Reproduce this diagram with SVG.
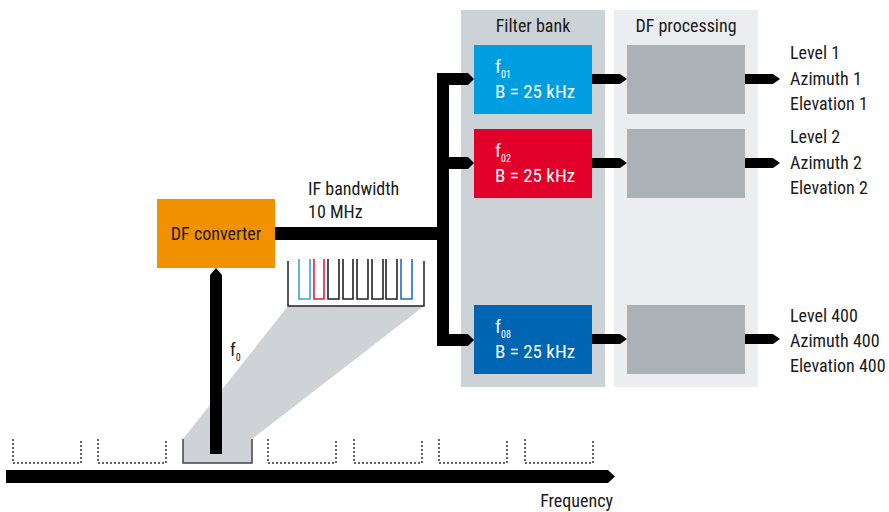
<svg xmlns="http://www.w3.org/2000/svg" width="889" height="512" viewBox="0 0 889 512">
<style>
text{font-family:"Liberation Sans Narrow","Roboto Condensed","DejaVu Sans Condensed","Liberation Sans",sans-serif;font-stretch:condensed;font-size:18px;fill:#1a1a1a}
.w{fill:#ffffff;font-size:19px}
.sub{font-size:10px}
.bin{fill:none;stroke:#333;stroke-width:1.5;stroke-dasharray:2 2}
.u{fill:none;stroke-width:1.6}
.blk{fill:#000}
</style>
<rect width="889" height="512" fill="#fff"/>
<g id="panel-filter-bank">
<rect x="461" y="10" width="144" height="377" fill="#cdd2d6"/>
<text x="533" y="32" text-anchor="middle">Filter bank</text>
</g>
<g id="panel-df-processing">
<rect x="614" y="10" width="144" height="377" fill="#ecedf1"/>
<text x="686" y="32" text-anchor="middle">DF processing</text>
</g>
<g id="spectrum">
<path class="bin" d="M13,439V463H81V439"/>
<path class="bin" d="M98,439V463H166V439"/>
<path class="bin" d="M268,439V463H336V439"/>
<path class="bin" d="M354,439V463H422V439"/>
<path class="bin" d="M439,439V463H507V439"/>
<path class="bin" d="M525,439V463H593V439"/>
<polygon points="288,306 424,306 252,439 252,463 183,463 183,439" fill="#cfd3d7"/>
<path d="M183,439V463H252V439" fill="none" stroke="#444" stroke-width="1.5"/>
</g>
<g id="comb">
<path d="M288,261V306H424V261" fill="none" stroke="#222" stroke-width="1.5"/>
<path class="u" stroke="#3aa3de" d="M299,259V299H310V259"/>
<path class="u" stroke="#e2203f" d="M314,259V299H324V259"/>
<path class="u" stroke="#222" d="M328,259V299H339V259"/>
<path class="u" stroke="#222" d="M343,259V299H353V259"/>
<path class="u" stroke="#222" d="M357,259V299H368V259"/>
<path class="u" stroke="#222" d="M372,259V299H383V259"/>
<path class="u" stroke="#222" d="M386,259V299H397V259"/>
<path class="u" stroke="#1e6fb8" d="M401,259V299H412V259"/>
</g>
<g id="df-converter">
<rect x="157" y="199" width="118" height="69" fill="#f29100"/>
<text x="216" y="240" text-anchor="middle">DF converter</text>
</g>
<g id="filter-01">
<rect x="474" y="45" width="118" height="69" fill="#009ee0"/>
<text class="w" x="495" y="73">f<tspan class="sub" dy="5">01</tspan></text>
<text class="w" x="495" y="98">B = 25 kHz</text>
</g>
<g id="filter-02">
<rect x="474" y="129" width="118" height="69" fill="#e2002a"/>
<text class="w" x="495" y="157">f<tspan class="sub" dy="5">02</tspan></text>
<text class="w" x="495" y="182">B = 25 kHz</text>
</g>
<g id="filter-08">
<rect x="474" y="305" width="118" height="69" fill="#0066b3"/>
<text class="w" x="495" y="333">f<tspan class="sub" dy="5">08</tspan></text>
<text class="w" x="495" y="358">B = 25 kHz</text>
</g>
<g id="df-proc-1"><rect x="627" y="45" width="118" height="69" fill="#abb1b7"/></g>
<g id="df-proc-2"><rect x="627" y="129" width="118" height="69" fill="#abb1b7"/></g>
<g id="df-proc-400"><rect x="627" y="305" width="118" height="69" fill="#abb1b7"/></g>
<g id="out-1">
<text x="790" y="59">Level 1</text>
<text x="790" y="85">Azimuth 1</text>
<text x="790" y="110">Elevation 1</text>
</g>
<g id="out-2">
<text x="790" y="143">Level 2</text>
<text x="790" y="169">Azimuth 2</text>
<text x="790" y="194">Elevation 2</text>
</g>
<g id="out-400">
<text x="790" y="322">Level 400</text>
<text x="790" y="347">Azimuth 400</text>
<text x="790" y="372">Elevation 400</text>
</g>
<g id="labels">
<text x="308" y="195">IF bandwidth</text>
<text x="308" y="218">10 MHz</text>
<text x="230" y="356">f<tspan class="sub" dy="5">0</tspan></text>
<text x="613" y="507" text-anchor="end">Frequency</text>
</g>
<g id="connectors" class="blk">
<rect x="275" y="227" width="168" height="13"/>
<rect x="437" y="73" width="12" height="273"/>
<polygon points="437,73 468,73 474,79 468,85 437,85"/>
<polygon points="437,157 468,157 474,163 468,169 437,169"/>
<polygon points="437,334 468,334 474,340 468,346 437,346"/>
<polygon points="592,74 620,74 627,79 620,84 592,84"/>
<polygon points="592,158 620,158 627,163 620,168 592,168"/>
<polygon points="592,334 620,334 627,339 620,344 592,344"/>
<polygon points="745,74 773,74 780,79 773,84 745,84"/>
<polygon points="745,158 773,158 780,163 773,168 745,168"/>
<polygon points="745,334 773,334 780,339 773,344 745,344"/>
<polygon points="210,454 210,275 216,268 222,275 222,454"/>
<polygon points="6,470 608,470 615,476.5 608,483 6,483"/>
</g>
</svg>
